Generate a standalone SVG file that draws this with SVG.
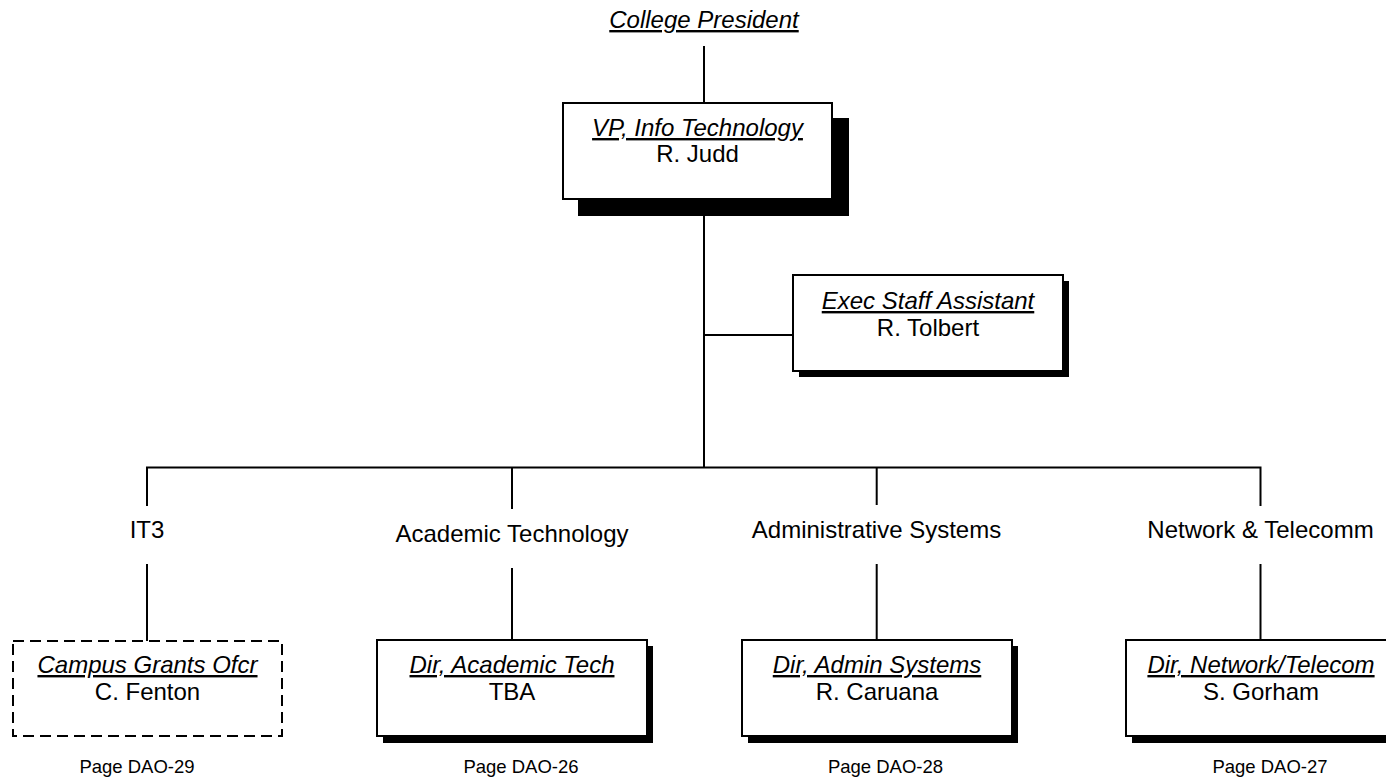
<svg xmlns="http://www.w3.org/2000/svg" width="1386" height="780" viewBox="0 0 1386 780">
<style>
text{font-family:"Liberation Sans",Arial,sans-serif;fill:#000;text-anchor:middle}
.t{font-size:24px;font-style:italic;text-decoration:underline}
.n{font-size:24px}
.lbl{font-size:24px}
.pg{font-size:18.5px}
.box{fill:#fff;stroke:#000;stroke-width:2}
.dash{fill:#fff;stroke:#000;stroke-width:2;stroke-dasharray:11 6}
.sh{fill:#000}
.ln{stroke:#000;stroke-width:2;fill:none}
</style>
<rect width="1386" height="780" fill="#fff"/>
<g id="connectors">
<line class="ln" x1="704" y1="46" x2="704" y2="103"/>
<line class="ln" x1="704" y1="216" x2="704" y2="468"/>
<line class="ln" x1="704" y1="335" x2="793" y2="335"/>
<polyline class="ln" points="147,506 147,467.5 1260.5,467.5 1260.5,506"/>
<line class="ln" x1="512" y1="467.5" x2="512" y2="509"/>
<line class="ln" x1="876.7" y1="467.5" x2="876.7" y2="505"/>
<line class="ln" x1="147" y1="564" x2="147" y2="641"/>
<line class="ln" x1="512" y1="568" x2="512" y2="640"/>
<line class="ln" x1="876.7" y1="564" x2="876.7" y2="640"/>
<line class="ln" x1="1260.5" y1="564" x2="1260.5" y2="640"/>
</g>
<g id="president">
<text class="t" x="704" y="28">College President</text>
</g>
<g id="vp">
<rect class="sh" x="578" y="118" width="271" height="98"/>
<rect class="box" x="563" y="103" width="269" height="96"/>
<text class="t" x="697.5" y="136">VP, Info Technology</text>
<text class="n" x="697.5" y="162">R. Judd</text>
</g>
<g id="exec">
<rect class="sh" x="799" y="281" width="270" height="96"/>
<rect class="box" x="793" y="275" width="270" height="96"/>
<text class="t" x="928" y="309">Exec Staff Assistant</text>
<text class="n" x="928" y="336">R. Tolbert</text>
</g>
<g id="it3">
<text class="lbl" x="147" y="538">IT3</text>
</g>
<g id="acadtech">
<text class="lbl" x="512" y="541.5">Academic Technology</text>
</g>
<g id="adminsys">
<text class="lbl" x="876.5" y="537.5">Administrative Systems</text>
</g>
<g id="nettel">
<text class="lbl" x="1260.5" y="537.5">Network &amp; Telecomm</text>
</g>
<g id="grants">
<rect class="dash" x="13" y="641" width="269" height="95"/>
<text class="t" x="147.5" y="673">Campus Grants Ofcr</text>
<text class="n" x="147.5" y="700">C. Fenton</text>
<text class="pg" x="137" y="773">Page DAO-29</text>
</g>
<g id="diracad">
<rect class="sh" x="383" y="646" width="270" height="97"/>
<rect class="box" x="377" y="640" width="270" height="96"/>
<text class="t" x="512" y="673">Dir, Academic Tech</text>
<text class="n" x="512" y="700">TBA</text>
<text class="pg" x="521" y="773">Page DAO-26</text>
</g>
<g id="diradmin">
<rect class="sh" x="748" y="646" width="270" height="97"/>
<rect class="box" x="742" y="640" width="270" height="96"/>
<text class="t" x="877" y="673">Dir, Admin Systems</text>
<text class="n" x="877" y="700">R. Caruana</text>
<text class="pg" x="885.5" y="773">Page DAO-28</text>
</g>
<g id="dirnet">
<rect class="sh" x="1132" y="646" width="270" height="97"/>
<rect class="box" x="1126" y="640" width="270" height="96"/>
<text class="t" x="1261" y="673">Dir, Network/Telecom</text>
<text class="n" x="1261" y="700">S. Gorham</text>
<text class="pg" x="1270" y="773">Page DAO-27</text>
</g>
</svg>
